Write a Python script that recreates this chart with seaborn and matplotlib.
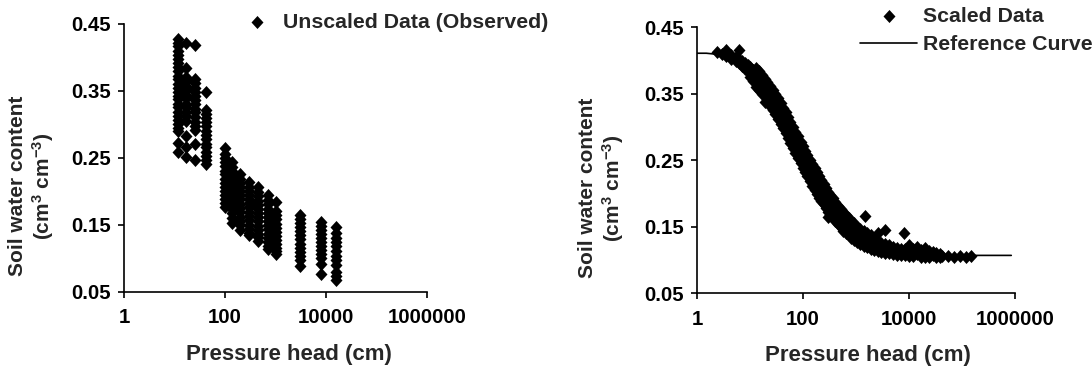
import numpy as np
import pandas as pd
import seaborn as sns
import matplotlib.pyplot as plt
from matplotlib.path import Path
from matplotlib.ticker import NullLocator

# observed (unscaled) data: one column of points per measured pressure head
obs_heads = [12, 17, 26, 42, 100, 140, 200, 300, 450, 700, 1000, 3100, 8000, 15500]
obs_theta = [
    [0.428, 0.421, 0.417, 0.409, 0.404, 0.398, 0.391, 0.386, 0.380, 0.372, 0.368, 0.361, 0.355,
     0.349, 0.342, 0.338, 0.331, 0.326, 0.318, 0.313, 0.306, 0.301, 0.295, 0.290, 0.272, 0.259],
    [0.421, 0.384, 0.371, 0.365, 0.358, 0.352, 0.344, 0.339, 0.331, 0.326, 0.318, 0.312, 0.305,
     0.282, 0.266, 0.252],
    [0.419, 0.368, 0.362, 0.355, 0.349, 0.343, 0.336, 0.330, 0.323, 0.318, 0.311, 0.304, 0.298,
     0.292, 0.270, 0.247],
    [0.349, 0.321, 0.316, 0.309, 0.303, 0.297, 0.290, 0.284, 0.278, 0.271, 0.266, 0.259, 0.253,
     0.247, 0.241],
    [0.264, 0.256, 0.250, 0.244, 0.238, 0.231, 0.226, 0.219, 0.213, 0.207, 0.201, 0.195, 0.188,
     0.182, 0.176],
    [0.244, 0.236, 0.230, 0.223, 0.217, 0.211, 0.204, 0.198, 0.192, 0.186, 0.179, 0.173, 0.167,
     0.160, 0.152],
    [0.226, 0.219, 0.213, 0.207, 0.200, 0.194, 0.188, 0.181, 0.175, 0.169, 0.162, 0.156, 0.149, 0.142],
    [0.214, 0.207, 0.201, 0.195, 0.188, 0.182, 0.176, 0.169, 0.163, 0.157, 0.150, 0.144, 0.138, 0.134],
    [0.206, 0.199, 0.193, 0.186, 0.180, 0.174, 0.167, 0.161, 0.155, 0.148, 0.142, 0.136, 0.131, 0.126],
    [0.194, 0.187, 0.181, 0.174, 0.168, 0.162, 0.155, 0.149, 0.143, 0.136, 0.130, 0.124, 0.119, 0.114],
    [0.184, 0.170, 0.164, 0.158, 0.151, 0.145, 0.139, 0.133, 0.127, 0.121, 0.116, 0.111, 0.106],
    [0.164, 0.158, 0.152, 0.146, 0.140, 0.134, 0.128, 0.122, 0.116, 0.110, 0.104, 0.097, 0.089],
    [0.154, 0.148, 0.142, 0.136, 0.130, 0.124, 0.118, 0.112, 0.106, 0.100, 0.092, 0.076],
    [0.146, 0.138, 0.130, 0.124, 0.118, 0.111, 0.104, 0.098, 0.090, 0.080, 0.073, 0.067],
]

# scaled data, grouped by pressure head
scaled_heads = [2.4, 3.0, 3.5, 4.3, 5.4, 6.3, 7.0, 8.0, 9.0, 10, 11.5, 13, 15, 17, 19, 21, 24, 27,
                30, 34, 38, 42, 47, 52, 58, 65, 72, 80, 90, 100, 110, 120, 135, 150, 165, 180,
                200, 220, 245, 270, 290, 300, 330, 370, 410, 460, 520, 580, 650, 730, 820, 920,
                1040, 1200, 1400, 1500, 1600, 1900, 2200, 2600, 3000, 3500, 4200, 5000, 6000,
                7000, 8000, 8500, 10000, 12000, 14000, 17000, 20000, 24000, 28000, 33000, 38000,
                42000, 55000, 70000, 90000, 120000, 150000]
scaled_theta = [
    [0.413], [0.410], [0.416, 0.407], [0.409, 0.403], [0.406, 0.399], [0.416, 0.402, 0.396],
    [0.399, 0.392], [0.396, 0.388], [0.393, 0.384], [0.390, 0.381, 0.376], [0.386, 0.377, 0.370],
    [0.389, 0.379, 0.369, 0.360], [0.384, 0.374, 0.364, 0.355], [0.378, 0.368, 0.358, 0.349],
    [0.373, 0.363, 0.353, 0.338], [0.367, 0.357, 0.347, 0.338], [0.361, 0.351, 0.341, 0.332],
    [0.355, 0.345, 0.335, 0.326], [0.350, 0.339, 0.329, 0.319], [0.343, 0.332, 0.322, 0.312],
    [0.336, 0.325, 0.315, 0.305], [0.329, 0.318, 0.308, 0.298], [0.322, 0.311, 0.301, 0.291],
    [0.315, 0.304, 0.293, 0.283], [0.308, 0.297, 0.286, 0.276], [0.300, 0.289, 0.278, 0.268],
    [0.293, 0.282, 0.271, 0.261], [0.286, 0.275, 0.264, 0.254], [0.278, 0.267, 0.256, 0.246],
    [0.271, 0.260, 0.249, 0.239], [0.264, 0.253, 0.242, 0.232], [0.258, 0.247, 0.236, 0.226],
    [0.251, 0.240, 0.229, 0.219], [0.244, 0.233, 0.222, 0.212], [0.238, 0.227, 0.216, 0.206],
    [0.232, 0.221, 0.210, 0.200], [0.226, 0.215, 0.204, 0.194], [0.220, 0.209, 0.198, 0.189],
    [0.214, 0.204, 0.193, 0.184], [0.208, 0.198, 0.187, 0.178], [0.164],
    [0.203, 0.193, 0.182, 0.173], [0.198, 0.188, 0.177, 0.168], [0.193, 0.183, 0.172, 0.163],
    [0.188, 0.178, 0.167, 0.158], [0.182, 0.173, 0.162, 0.154], [0.177, 0.168, 0.157, 0.149],
    [0.172, 0.163, 0.152, 0.144], [0.167, 0.159, 0.148, 0.140], [0.163, 0.155, 0.144, 0.137],
    [0.159, 0.151, 0.140, 0.133], [0.155, 0.147, 0.136, 0.130], [0.150, 0.143, 0.133, 0.127],
    [0.147, 0.139, 0.130, 0.124], [0.143, 0.136, 0.127, 0.121], [0.166],
    [0.140, 0.133, 0.124, 0.119], [0.137, 0.130, 0.121, 0.116], [0.131, 0.122, 0.115],
    [0.140, 0.128, 0.120, 0.113], [0.126, 0.118, 0.112], [0.145, 0.124, 0.116, 0.111],
    [0.122, 0.115, 0.110], [0.120, 0.113, 0.109], [0.118, 0.112, 0.108], [0.117, 0.111, 0.107],
    [0.140], [0.116, 0.110, 0.107], [0.122, 0.115, 0.110, 0.106], [0.116, 0.110, 0.106],
    [0.120, 0.114, 0.109], [0.115, 0.109, 0.105], [0.118, 0.113, 0.108, 0.104],
    [0.113, 0.108, 0.104], [0.112, 0.107], [0.110, 0.105], [0.109, 0.104], [0.106], [0.106],
    [0.105], [0.106], [0.105], [0.106],
]

# reference retention curve
ref_heads = [1, 1.5, 2, 3, 5, 7, 10, 15, 20, 30, 40, 50, 70, 100, 150, 200, 300, 500, 700,
             1000, 2000, 3000, 5000, 10000, 30000, 100000, 850000]
ref_theta = [0.411, 0.411, 0.410, 0.407, 0.400, 0.393, 0.382, 0.366, 0.355, 0.335, 0.318, 0.303,
             0.281, 0.256, 0.229, 0.211, 0.187, 0.163, 0.152, 0.140, 0.123, 0.117, 0.112, 0.109,
             0.107, 0.107, 0.107]

x_ticks = [1, 100, 10000, 1000000]
x_tick_labels = ['1', '100', '10000', '1000000']
y_ticks = [0.05, 0.15, 0.25, 0.35, 0.45]
y_tick_labels = ['0.05', '0.15', '0.25', '0.35', '0.45']

obs = pd.DataFrame([(h, t) for h, ts in zip(obs_heads, obs_theta) for t in ts], columns=['h', 'theta'])
scaled = pd.DataFrame([(h, t) for h, ts in zip(scaled_heads, scaled_theta) for t in ts],
                      columns=['h', 'theta'])
ref = pd.DataFrame({'h': ref_heads, 'theta': ref_theta})

sns.set_style('white')
FONT = 'Liberation Sans'
plt.rcParams['font.family'] = 'sans-serif'
plt.rcParams['font.sans-serif'] = [FONT]
plt.rcParams['font.weight'] = 'bold'
plt.rcParams['mathtext.fontset'] = 'custom'
plt.rcParams['mathtext.rm'] = 'Liberation Sans:bold'
plt.rcParams['mathtext.it'] = 'Liberation Sans:bold'
plt.rcParams['mathtext.bf'] = 'Liberation Sans:bold'

diamond = Path([(0, 1), (0.92, 0), (0, -1), (-0.92, 0), (0, 1)], closed=True)
W, H = 1092, 371
MS = 88

fig = plt.figure(figsize=(W / 100, H / 100), dpi=100)
ax1 = fig.add_axes([124 / W, (H - 291.7) / H, 303 / W, 267.7 / H])
ax2 = fig.add_axes([697 / W, (H - 293.3) / H, 318 / W, 266 / H])

sns.scatterplot(data=obs, x='h', y='theta', ax=ax1, marker=diamond, s=MS, color='black',
                edgecolor='black', linewidth=0, label='Unscaled Data (Observed)', zorder=3)
sns.lineplot(data=ref, x='h', y='theta', ax=ax2, color='black', linewidth=1.2,
             label='Reference Curve', zorder=2)
sns.scatterplot(data=scaled, x='h', y='theta', ax=ax2, marker=diamond, s=MS, color='black',
                edgecolor='black', linewidth=0, label='Scaled Data', zorder=3)

for ax in (ax1, ax2):
    ax.set_xscale('log')
    ax.set_xlim(1, 1000000)
    ax.set_ylim(0.05, 0.45)
    ax.set_xticks(x_ticks)
    ax.set_xticklabels(x_tick_labels, family=FONT, weight='bold')
    ax.xaxis.set_minor_locator(NullLocator())
    ax.set_yticks(y_ticks)
    ax.set_yticklabels(y_tick_labels, family=FONT, weight='bold')
    ax.tick_params(direction='out', length=4.3, width=1.2, color='black', labelsize=14.7,
                   labelcolor='black', left=True, bottom=True)
    ax.tick_params(axis='x', pad=7.5)
    ax.tick_params(axis='y', pad=5)
    for side in ('left', 'bottom'):
        ax.spines[side].set_color('black')
        ax.spines[side].set_linewidth(1.2)
    sns.despine(ax=ax)
    ax.grid(False)
    ax.set_xlabel('Pressure head (cm)', family=FONT, fontsize=16, weight='bold', va='center')
    ax.set_ylabel('Soil water content\n(cm$^3$ cm$^{-3}$)', family=FONT, fontsize=15, weight='bold',
                  va='center', ha='center', linespacing=1.15)

ax1.xaxis.set_label_coords(0.543, -0.236)
ax1.yaxis.set_label_coords(-0.305, 0.395)
ax2.xaxis.set_label_coords(0.537, -0.232)
ax2.yaxis.set_label_coords(-0.300, 0.395)

legend_font = {'family': FONT, 'size': 15.3, 'weight': 'bold'}
ax1.legend(loc='center left', bbox_to_anchor=(237.4 / W, 1 - 22 / H), bbox_transform=fig.transFigure,
           frameon=False, borderpad=0, borderaxespad=0, handlelength=1.83, handletextpad=0.3,
           prop=legend_font)
h, l = ax2.get_legend_handles_labels()
ax2.legend([h[1], h[0]], [l[1], l[0]], loc='upper left', bbox_to_anchor=(860 / W, 1 - 6.5 / H),
           bbox_transform=fig.transFigure, frameon=False, borderpad=0, borderaxespad=0,
           handlelength=2.7, handletextpad=0.28, labelspacing=0.46, prop=legend_font)

fig.savefig('out.png', dpi=100)
